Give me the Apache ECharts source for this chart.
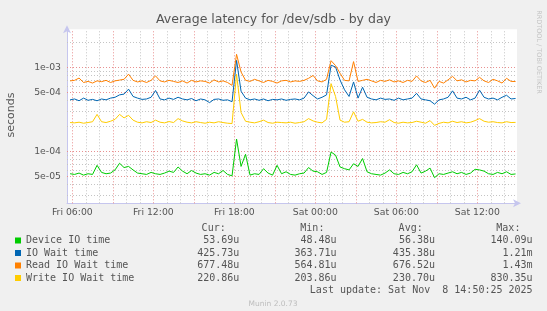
<!DOCTYPE html>
<html><head><meta charset="utf-8">
<script src="https://cdn.jsdelivr.net/npm/echarts@6/dist/echarts.min.js"></script>
<style>html,body{margin:0;padding:0;background:#f0f0f0}#c{width:547px;height:311px}</style>
</head><body><div id="c"></div><script>
// ---- data (values in microseconds, 20-minute samples from Fri 05:50 to Sat 14:50) ----
const seriesNames = ['Device IO time', 'IO Wait time', 'Read IO Wait time', 'Write IO Wait time'];
const seriesColors = ['#00CC00', '#0066B3', '#FF8000', '#FFCC00'];
const sampleStartHour = 5 + 50 / 60;   // Fri 05:50, hours since Fri 00:00
const sampleStepHour = 1 / 3;          // 20 minutes

const deviceUs = [54,53,55,52,54,53,68,56,54,55, 60,72,64,66,60,55,54,53,56,54,
  53,55,58,56,65,58,54,59,55,53, 54,52,56,54,59,53,51,140,66,92,
  52,54,53,62,55,52,68,54,57,53, 52,54,55,64,58,57,53,56,98,90,
  65,62,60,71,66,82,57,54,53,52, 55,60,54,53,56,54,57,69,55,58,
  63,48.5,54,53,55,57,54,56,53,55, 61,60,58,54,53,56,54,57,53,53.69];
const ioWaitUs = [410,420,400,430,405,415,400,420,410,430, 440,470,480,550,450,430,415,420,440,530,
  420,410,430,415,440,420,410,425,400,420, 410,380,415,420,405,410,390,1210,520,430,
  410,420,405,420,400,415,410,420,405,415, 420,410,430,510,460,420,440,470,1060,1010,
  705,540,450,670,430,580,440,420,410,430, 415,420,405,430,410,420,430,490,420,410,
  400,364,410,420,440,525,430,420,440,410, 430,535,440,420,430,410,440,465,420,425.73];
const readWaitUs = [690,700,745,660,680,650,690,675,700,660, 690,705,720,830,700,670,690,660,700,790,
  690,670,700,680,660,690,650,700,670,690, 680,650,710,670,690,660,610,1430,880,700,
  680,720,690,660,700,680,650,690,700,670, 690,680,700,740,800,690,670,720,1200,1050,
  850,700,690,1170,680,700,720,690,660,700, 680,710,670,690,660,700,680,790,690,660,
  700,565,680,650,710,780,690,710,670,700, 690,760,690,660,720,690,650,740,680,677.48];
const writeWaitUs = [220,218,222,216,220,225,275,225,220,228, 240,275,250,268,235,222,218,225,220,235,
  222,218,226,220,245,230,222,218,225,220, 216,222,218,225,220,216,214,830,290,228,
  222,218,225,235,220,216,222,220,218,222, 216,220,225,245,230,222,218,240,640,450,
  235,222,225,295,228,240,222,218,220,225, 222,238,220,216,222,218,220,228,222,216,
  232,203.86,215,222,218,228,220,225,218,222, 232,245,228,222,225,220,218,225,220,220.86];

// axes / ticks
const xMinHour = 5.607, xMaxHour = 38.94;
const xLabelHours = [6, 12, 18, 24, 30, 36];
const xLabelTexts = ['Fri 06:00', 'Fri 12:00', 'Fri 18:00', 'Sat 00:00', 'Sat 06:00', 'Sat 12:00'];
const xMajorHours = [6, 9, 12, 15, 18, 21, 24, 27, 30, 33, 36];
const xMinorHours = [7, 8, 10, 11, 13, 14, 16, 17, 19, 20, 22, 23, 25, 26, 28, 29, 31, 32, 34, 35, 37, 38];
const yMin = 2.4e-5, yMax = 2.84e-3;
const yLabelValues = [1e-3, 5e-4, 1e-4, 5e-5];
const yLabelTexts = ['1e-03', '5e-04', '1e-04', '5e-05'];
const yMinorValues = [2e-3, 9e-4, 8e-4, 7e-4, 6e-4, 4e-4, 3e-4, 2e-4, 9e-5, 8e-5, 7e-5, 6e-5, 4e-5, 3e-5];

// legend table
const colHeaders = ['Cur:', 'Min:', 'Avg:', 'Max:'];
const curVals = ['53.69u', '425.73u', '677.48u', '220.86u'];
const minVals = ['48.48u', '363.71u', '564.81u', '203.86u'];
const avgVals = ['56.38u', '435.38u', '676.52u', '230.70u'];
const maxVals = ['140.09u', '1.21m', '1.43m', '830.35u'];
const lastUpdate = 'Last update: Sat Nov  8 14:50:25 2025';

// ---- build ----
const allUs = [deviceUs, ioWaitUs, readWaitUs, writeWaitUs];
function toPairs(arr) { return arr.map((v, i) => [sampleStartHour + i * sampleStepHour, v / 1e6]); }

const gridGray = '#C4C4C4', gridRed = '#E89090', axisCol = '#C6C6EE', textCol = '#555';
const mono = '"DejaVu Sans Mono", monospace', sans = '"DejaVu Sans", sans-serif';

const gridLines = [];
yMinorValues.forEach(v => gridLines.push({ yAxis: v, lineStyle: { color: gridGray }, label: { show: false } }));
xMinorHours.forEach(h => gridLines.push({ xAxis: h, lineStyle: { color: gridGray }, label: { show: false } }));
xMajorHours.forEach(h => gridLines.push({ xAxis: h, lineStyle: { color: gridRed }, label: { show: false } }));
yLabelValues.forEach((v, k) => gridLines.push({ yAxis: v, lineStyle: { color: gridRed },
  label: { show: true, position: 'start', distance: 6, formatter: yLabelTexts[k], color: textCol, fontSize: 9.3, fontFamily: sans } }));

const series = [{
  type: 'line', data: [], z: 1, silent: true,
  markLine: { silent: true, z: 1, precision: 12, symbol: ['none', 'none'], animation: false,
    lineStyle: { type: [1, 2], width: 1 }, emphasis: { disabled: true }, data: gridLines }
}];
allUs.forEach((arr, k) => series.push({
  name: seriesNames[k], type: 'line', data: toPairs(arr), z: 3 + k, showSymbol: false, symbol: 'none',
  lineStyle: { width: 1, color: seriesColors[k] }, itemStyle: { color: seriesColors[k] }, emphasis: { disabled: true }
}));

const rowY = [240.5, 253, 265.6, 278.1];
const colRight = [239.3, 336.6, 435, 532.6];
const headRight = [225.7, 324.4, 422.7, 520.4];
const graphics = [];
colHeaders.forEach((h, c) => graphics.push({ type: 'text', x: headRight[c], y: 228.3,
  style: { text: h, align: 'right', verticalAlign: 'middle', font: '10px ' + mono, fill: textCol } }));
[curVals, minVals, avgVals, maxVals].forEach((col, c) => col.forEach((t, r) => graphics.push({ type: 'text',
  x: colRight[c], y: rowY[r], style: { text: t, align: 'right', verticalAlign: 'middle', font: '10px ' + mono, fill: textCol } })));
graphics.push({ type: 'text', x: 532.6, y: 290.3, style: { text: lastUpdate, align: 'right', verticalAlign: 'middle', font: '10px ' + mono, fill: textCol } });
graphics.push({ type: 'text', x: 273, y: 304, style: { text: 'Munin 2.0.73', align: 'center', verticalAlign: 'middle', font: '7.5px ' + sans, fill: '#BDBDBD' } });
graphics.push({ type: 'text', x: 11, y: 115, rotation: Math.PI / 2, style: { text: 'seconds', align: 'center', verticalAlign: 'middle', font: '11px ' + sans, fill: textCol } });
graphics.push({ type: 'text', x: 539, y: 52, rotation: -Math.PI / 2, style: { text: 'RRDTOOL / TOBI OETIKER', align: 'center', verticalAlign: 'middle', font: '6.5px ' + sans, fill: '#C4C4C4' } });

const chart = echarts.init(document.getElementById('c'), null, { renderer: 'canvas' });
chart.setOption({
  animation: false,
  backgroundColor: '#F0F0F0',
  textStyle: { fontFamily: sans },
  title: { text: 'Average latency for /dev/sdb - by day', left: 'center', top: 13.5, padding: 0,
    textStyle: { fontSize: 12.5, fontWeight: 'normal', color: textCol, fontFamily: sans } },
  grid: { left: 67, right: 30, top: 29.3, bottom: 107.7, show: true, backgroundColor: '#FFFFFF', borderWidth: 0, containLabel: false },
  legend: { orient: 'vertical', left: 15, top: 234.5, padding: 0, itemWidth: 6, itemHeight: 6, itemGap: 0.5,
    icon: 'rect', selectedMode: false, data: seriesNames,
    textStyle: { fontFamily: mono, fontSize: 10, color: textCol, lineHeight: 12 } },
  xAxis: { type: 'value', min: xMinHour, max: xMaxHour,
    axisLine: { show: true, onZero: false, lineStyle: { color: axisCol, width: 1 }, symbol: ['none', 'arrow'], symbolSize: [6, 8], symbolOffset: [0, 4] },
    axisTick: { show: false }, splitLine: { show: false },
    axisLabel: { customValues: xLabelHours, color: textCol, fontSize: 9.3, fontFamily: sans, margin: 5,
      formatter: v => { const k = xLabelHours.indexOf(Math.round(v)); return k >= 0 ? xLabelTexts[k] : ''; } } },
  yAxis: { type: 'log', min: yMin, max: yMax,
    axisLine: { show: true, lineStyle: { color: axisCol, width: 1 }, symbol: ['none', 'arrow'], symbolSize: [6, 8], symbolOffset: [0, 4] },
    axisTick: { show: false }, axisLabel: { show: false }, splitLine: { show: false }, minorSplitLine: { show: false } },
  graphic: graphics,
  series: series
});
</script></body></html>
